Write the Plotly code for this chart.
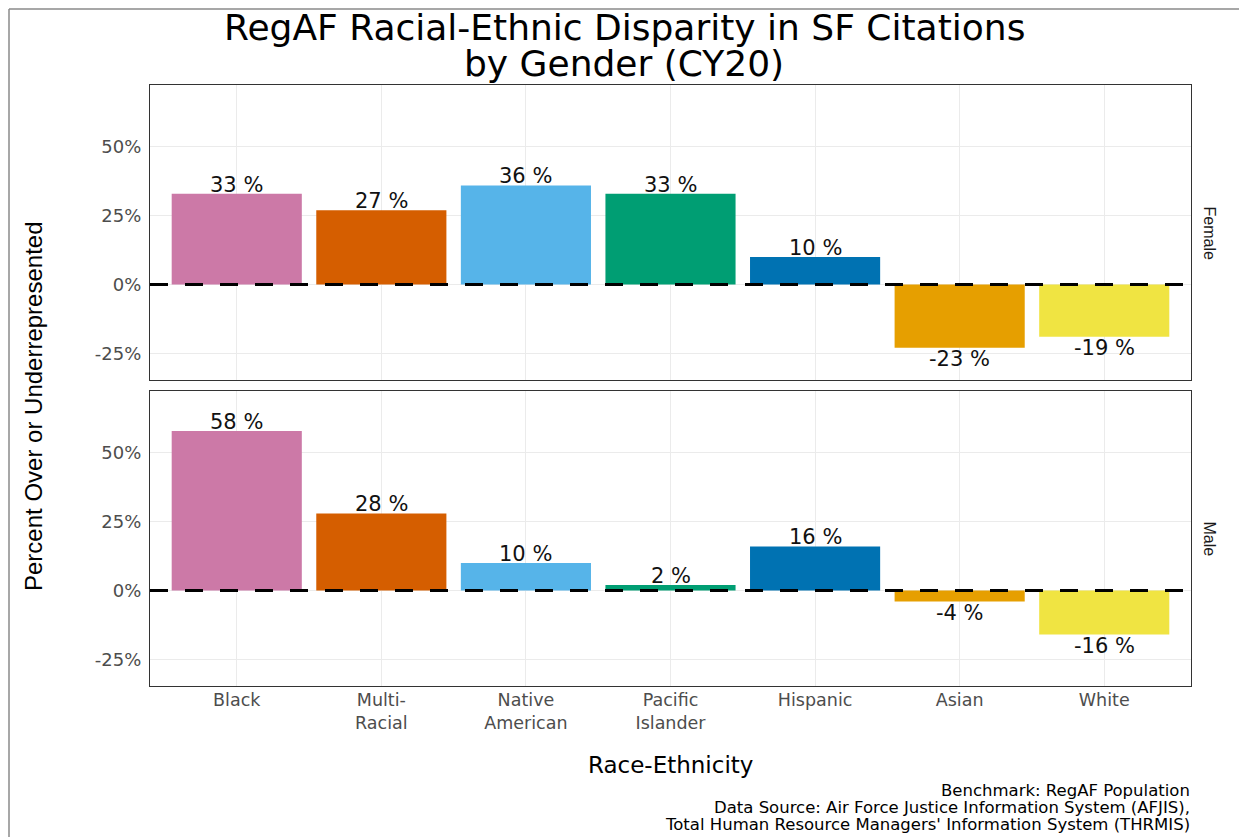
import plotly.graph_objects as go
from plotly.subplots import make_subplots

# ---- data ----
categories = ["Black", "Multi-Racial", "Native American", "Pacific Islander",
              "Hispanic", "Asian", "White"]
tick_labels = ["Black", "Multi-<br>Racial", "Native<br>American", "Pacific<br>Islander",
               "Hispanic", "Asian", "White"]
female_values = [33, 27, 36, 33, 10, -23, -19]
male_values = [58, 28, 10, 2, 16, -4, -16]
bar_colors = ["#CC79A7", "#D55E00", "#56B4E9", "#009E73", "#0072B2", "#E69F00", "#F0E442"]
y_tickvals = [-0.25, 0, 0.25, 0.5]
y_ticktext = ["-25%", "0%", "25%", "50%"]
panels = ["Female", "Male"]

title_line1 = "RegAF Racial-Ethnic Disparity in SF Citations"
title_line2 = "by Gender (CY20)"
x_title = "Race-Ethnicity"
y_title = "Percent Over or Underrepresented"
captions = ["Benchmark: RegAF Population",
            "Data Source: Air Force Justice Information System (AFJIS),",
            "Total Human Resource Managers' Information System (THRMIS)"]

HFONT = "DejaVu Sans"
VFONT = "Liberation Sans, Arial"

W, H = 1247, 837
OFF = 8  # page body margin offset
# target screen positions of the panel area
S_LEFT, S_RIGHT, S_TOP, S_BOTTOM = 150, 1191, 85, 686
ML = S_LEFT - OFF
MT = S_TOP - OFF
MR = W - (S_RIGHT - OFF)
MB = H - (S_BOTTOM - OFF)
PH = H - MT - MB
PW = W - ML - MR


def px_x(px):
    return (px - S_LEFT) / PW


def px_y(py):
    return (S_BOTTOM - py) / PH


fig = make_subplots(rows=2, cols=1, shared_xaxes=True, vertical_spacing=11 / PH)

for r, vals in enumerate([female_values, male_values], start=1):
    fig.add_trace(go.Bar(
        x=categories, y=[v / 100 for v in vals], marker_color=bar_colors,
        marker_line_width=0, width=0.9, showlegend=False, hoverinfo="x+y"),
        row=r, col=1)

annotations = []
for r, vals in enumerate([female_values, male_values], start=1):
    xr = "x" if r == 1 else "x2"
    yr = "y" if r == 1 else "y2"
    for c, v in zip(categories, vals):
        annotations.append(dict(
            x=c, y=v / 100, xref=xr, yref=yr, text=f"{v} %", showarrow=False,
            yanchor="bottom" if v >= 0 else "top",
            yshift=-5 if v >= 0 else 3,
            font=dict(family=HFONT, size=21, color="#111111")))
    # strip label
    annotations.append(dict(
        x=px_x(1209), xref="paper", y=0.5, yref=f"{yr} domain", text=panels[r - 1],
        textangle=90, showarrow=False, xanchor="center", yanchor="middle",
        font=dict(family=VFONT, size=16, color="#1A1A1A")))

annotations.append(dict(x=px_x(624), xref="paper", y=px_y(27), yref="paper",
                        text=title_line1, showarrow=False, xanchor="center",
                        yanchor="middle", font=dict(family=HFONT, size=36, color="#000000")))
annotations.append(dict(x=px_x(624), xref="paper", y=px_y(63), yref="paper",
                        text=title_line2, showarrow=False, xanchor="center",
                        yanchor="middle", font=dict(family=HFONT, size=36, color="#000000")))
annotations.append(dict(x=0.5, xref="paper", y=px_y(765), yref="paper",
                        text=x_title, showarrow=False, xanchor="center",
                        yanchor="middle", font=dict(family=HFONT, size=23, color="#000000")))
annotations.append(dict(x=px_x(33), xref="paper", y=px_y(406), yref="paper",
                        text=y_title, showarrow=False, textangle=-90, xanchor="center",
                        yanchor="middle", font=dict(family=VFONT, size=24, color="#000000")))
for py, txt in zip([790, 807, 824], captions):
    annotations.append(dict(x=px_x(1192), xref="paper", y=px_y(py), yref="paper",
                            text=txt, showarrow=False, xanchor="right",
                            yanchor="middle", font=dict(family=HFONT, size=16.5, color="#000000")))

shapes = []
for yr in ["y", "y2"]:
    shapes.append(dict(type="line", xref="x domain" if yr == "y" else "x2 domain",
                       yref=yr, x0=0, x1=1, y0=0, y1=0, layer="above",
                       line=dict(color="#000000", width=3, dash="18px,17px")))
# outer frame (left, top, right edges of the page border)
fx0, fx1, fy1, fy0 = px_x(OFF + 1), px_x(1240), px_y(OFF + 1), px_y(H + 20)
frame_line = dict(color="#8a8a8a", width=1.5)
shapes.append(dict(type="line", xref="paper", yref="paper", x0=fx0, x1=fx0, y0=fy0, y1=fy1,
                   line=frame_line, layer="above"))
shapes.append(dict(type="line", xref="paper", yref="paper", x0=fx0, x1=fx1, y0=fy1, y1=fy1,
                   line=frame_line, layer="above"))
shapes.append(dict(type="line", xref="paper", yref="paper", x0=fx1, x1=fx1, y0=fy0, y1=fy1,
                   line=frame_line, layer="above"))

fig.update_layout(
    width=W, height=H,
    margin=dict(l=ML, r=MR, t=MT, b=MB),
    paper_bgcolor="white", plot_bgcolor="white",
    bargap=0.1, showlegend=False,
    annotations=annotations, shapes=shapes,
    font=dict(family=HFONT, color="#4D4D4D"),
)

axis_common = dict(showline=True, linecolor="#333333", linewidth=1.3, mirror=True,
                   showgrid=True, gridcolor="#EBEBEB", gridwidth=1.3, zeroline=False)

fig.update_xaxes(**axis_common, categoryorder="array", categoryarray=categories,
                 range=[-0.6, 6.6])
fig.update_xaxes(tickvals=categories, ticktext=tick_labels, ticks="",
                 ticklabelstandoff=-2,
                 tickfont=dict(family=HFONT, size=17.5, color="#4D4D4D"),
                 row=2, col=1)
fig.update_xaxes(ticks="", showticklabels=False, row=1, col=1)
fig.update_yaxes(**axis_common, range=[-0.347, 0.725], tickvals=y_tickvals,
                 ticktext=y_ticktext, ticks="", ticklabelstandoff=4,
                 tickfont=dict(family=HFONT, size=18, color="#4D4D4D"))

fig.write_html("out.html")
